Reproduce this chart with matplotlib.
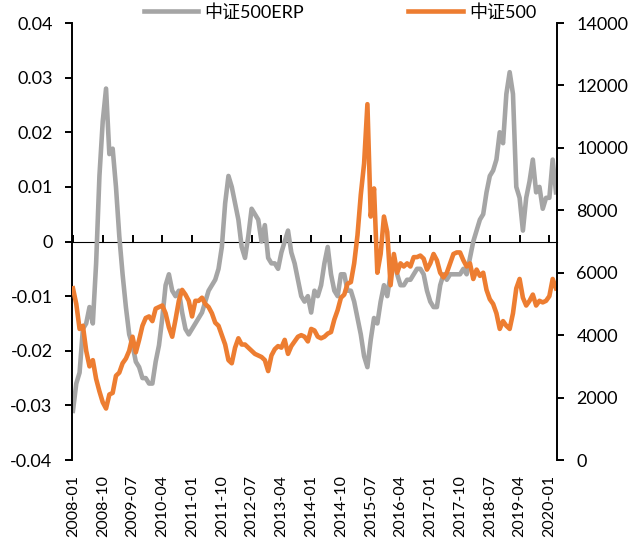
#!/usr/bin/env python3
# -*- coding: utf-8 -*-

import numpy as np
import pandas as pd
from matplotlib import pyplot as plt
from matplotlib.ticker import FuncFormatter

# monthly points, 2008-01 .. 2020-03
months = pd.date_range("2008-01-01", periods=147, freq="MS")

erp = [
    -0.031, -0.026, -0.024, -0.016, -0.015, -0.012, -0.015, -0.004, 0.012, 0.022,
    0.028, 0.016, 0.017, 0.010, 0.001, -0.006, -0.012, -0.017, -0.019, -0.022,
    -0.023, -0.025, -0.025, -0.026, -0.026, -0.022, -0.019, -0.014, -0.008, -0.006,
    -0.009, -0.010, -0.009, -0.013, -0.016, -0.017, -0.016, -0.015, -0.014, -0.013,
    -0.011, -0.009, -0.008, -0.007, -0.005, -0.001, 0.007, 0.012, 0.010, 0.007,
    0.004, -0.001, -0.003, 0.001, 0.006, 0.005, 0.004, 0.000, 0.003, -0.003,
    -0.004, -0.004, -0.005, -0.002, 0.000, 0.002, -0.002, -0.004, -0.007, -0.010,
    -0.011, -0.010, -0.013, -0.009, -0.010, -0.008, -0.004, -0.001, -0.006, -0.009,
    -0.010, -0.006, -0.006, -0.009, -0.009, -0.011, -0.014, -0.017, -0.021, -0.023,
    -0.018, -0.014, -0.015, -0.011, -0.008, -0.010, -0.006, -0.003, -0.006, -0.008,
    -0.008, -0.007, -0.007, -0.006, -0.005, -0.005, -0.006, -0.009, -0.011, -0.012,
    -0.012, -0.008, -0.006, -0.007, -0.006, -0.006, -0.006, -0.006, -0.005, -0.006,
    -0.003, 0.000, 0.002, 0.004, 0.005, 0.009, 0.012, 0.013, 0.015, 0.020,
    0.018, 0.027, 0.031, 0.027, 0.010, 0.008, 0.002, 0.008, 0.011, 0.015,
    0.009, 0.010, 0.006, 0.008, 0.008, 0.015, 0.009,
]

csi500 = [
    5500, 5000, 4200, 4300, 3500, 3000, 3200, 2600, 2200, 1850,
    1650, 2100, 2150, 2700, 2800, 3100, 3250, 3500, 3950, 3450,
    3850, 4300, 4550, 4600, 4450, 4850, 4900, 4950, 4700, 4250,
    3950, 4500, 5100, 5450, 5300, 5100, 4600, 5100, 5100, 5200,
    5000, 4900, 4700, 4400, 4300, 4000, 3700, 3200, 3100, 3600,
    3900, 3700, 3700, 3600, 3500, 3400, 3350, 3300, 3200, 2850,
    3350, 3550, 3650, 3600, 3850, 3400, 3650, 3800, 3950, 4000,
    3950, 3800, 4200, 4150, 3950, 3900, 3950, 4050, 4100, 4500,
    4800, 5200, 5300, 5650, 5700, 6300, 7200, 8500, 9500, 11400,
    7800, 8700, 6000, 6600, 7800, 7300, 5600, 6600, 6000, 6300,
    6200, 6300, 6200, 6500, 6500, 6550, 6450, 6100, 6300, 6600,
    6400, 6000, 5850, 6000, 6300, 6600, 6650, 6650, 6400, 6200,
    6300, 5800, 6100, 5900, 6000, 5450, 5150, 5000, 4700, 4200,
    4450, 4300, 4200, 4700, 5500, 5800, 5200, 4950, 5100, 5300,
    4950, 5100, 5050, 5100, 5250, 5800, 5500,
]

labels = ["中证500ERP", "中证500"]
colors = ["#A5A5A5", "#ED7D31"]

plt.rcParams["font.family"] = ["Lato", "Noto Sans CJK SC", "DejaVu Sans"]
plt.rcParams["font.size"] = 13

fig = plt.figure(figsize=(6.33, 5.4), dpi=100)
ax = fig.add_axes([0.1137, 0.1481, 0.7662, 0.8093])
ax2 = ax.twinx()

x = np.arange(len(months))
l1, = ax.plot(x, erp, color=colors[0], lw=3.3, solid_joinstyle="round",
              label=labels[0])
l2, = ax2.plot(x, csi500, color=colors[1], lw=3.3, solid_joinstyle="round",
               label=labels[1])

ax.set_xlim(-0.3, 146.3)
ax.set_ylim(-0.04, 0.04)
ax2.set_ylim(0, 14000)
ax.set_yticks(np.linspace(-0.04, 0.04, 9))
ax2.set_yticks(np.arange(0, 14001, 2000))
ax.yaxis.set_major_formatter(FuncFormatter(lambda v, p: "0" if abs(v) < 1e-9 else f"{v:.2f}"))

for a in (ax, ax2):
    for s in ("top", "bottom"):
        a.spines[s].set_visible(False)
    a.spines["left"].set_linewidth(1.4)
    a.spines["right"].set_linewidth(1.4)
ax.spines["right"].set_visible(False)
ax2.spines["left"].set_visible(False)

ax.tick_params(axis="y", direction="out", length=5, width=1.4, pad=9)
ax2.tick_params(axis="y", direction="out", length=5, width=1.4, pad=9)

# date labels at the bottom, tick marks on the zero line
tick_pos = x[::9]
ax.set_xticks(tick_pos)
ax.set_xticklabels(months[::9].strftime("%Y-%m"), rotation=90, va="top",
                   fontsize=11.5)
ax.tick_params(axis="x", length=0, pad=11)

zero = ax.secondary_xaxis(0.5)
zero.set_xticks(tick_pos)
zero.set_xticklabels([])
zero.tick_params(axis="x", direction="out", length=5, width=1.4)
zero.spines["bottom"].set_linewidth(1.4)

fig.legend(handles=[l1, l2], loc="center", bbox_to_anchor=(0.537, 0.978),
           ncol=2, frameon=False, handlelength=3.0, handletextpad=0.35,
           columnspacing=5.8, borderpad=0)

fig.savefig("out.png", dpi=100)
